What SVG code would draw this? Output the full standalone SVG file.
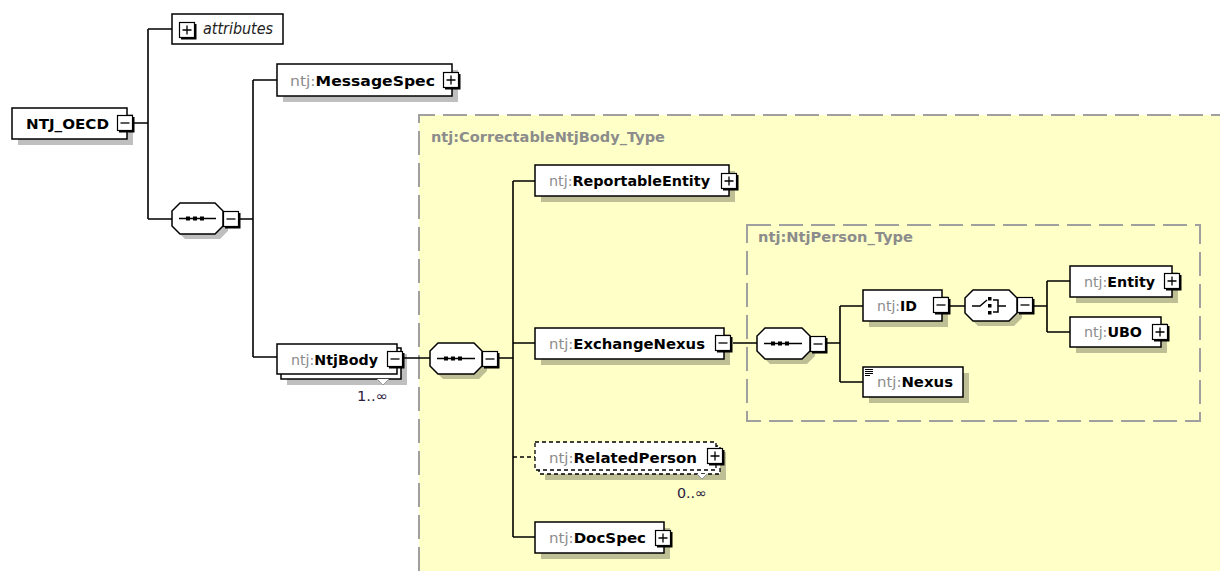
<svg xmlns="http://www.w3.org/2000/svg" xmlns:xlink="http://www.w3.org/1999/xlink" width="1220" height="571" viewBox="0 0 1220 571">
<style>
.box{fill:#fff;stroke:#000;stroke-width:1.5}
.dbox{fill:#fff;stroke:#000;stroke-width:1.3;stroke-dasharray:4 3}
.sh{fill:#000;fill-opacity:0.25}
.ln{fill:none;stroke:#000;stroke-width:1.6}
.dl{fill:none;stroke:#000;stroke-width:1.4;stroke-dasharray:4 3}
.grp{fill:none;stroke:#a0a0a0;stroke-width:2;stroke-dasharray:24 8}
.t{font-family:"DejaVu Sans","Liberation Sans",sans-serif;font-size:14.5px;font-weight:bold;fill:#000}
.p{fill:#8c8c8c;font-weight:normal}
.g{font-family:"DejaVu Sans","Liberation Sans",sans-serif;font-size:14.5px;font-weight:bold;fill:#8c8c8c}
.m{font-family:"DejaVu Sans","Liberation Sans",sans-serif;font-size:14px;fill:#2a2040}
.it{font-family:"DejaVu Sans","Liberation Sans",sans-serif;font-size:15px;font-style:italic;fill:#222}
.ic{fill:none;stroke:#000;stroke-width:1.5}
</style>
<defs>
<g id="bm">
<rect x="0.5" y="0.5" width="15" height="15" fill="#fff" stroke="#000" stroke-width="1.2"/>
<path d="M16.5,2 V16.5 H2" fill="none" stroke="#000" stroke-width="2"/>
<path d="M3.5,8 H12.5" stroke="#000" stroke-width="1.3"/>
</g>
<g id="bp">
<rect x="0.5" y="0.5" width="15" height="15" fill="#fff" stroke="#000" stroke-width="1.2"/>
<path d="M16.5,2 V16.5 H2" fill="none" stroke="#000" stroke-width="2"/>
<path d="M3.5,8 H12.5 M8,3.5 V12.5" stroke="#000" stroke-width="1.3"/>
</g>
</defs>
<rect x="0" y="0" width="1220" height="571" fill="#fff"/>

<g id="CorrectableNtjBody_Type">
<rect x="419" y="115" width="801" height="456" fill="#ffffc8"/>
<path class="grp" d="M419,571 V115 H1220"/>
<text class="g" x="431" y="142" textLength="234" lengthAdjust="spacingAndGlyphs">ntj:CorrectableNtjBody_Type</text>
</g>

<g id="NtjPerson_Type">
<rect class="grp" x="747" y="225" width="453" height="196"/>
<text class="g" x="758" y="242" textLength="155" lengthAdjust="spacingAndGlyphs">ntj:NtjPerson_Type</text>
</g>

<g id="connectors">
<path class="ln" d="M134,123 H148 M148,29 V219 M148,29 H172 M148,219 H172"/>
<path class="ln" d="M240,219 H253 M253,80 V357 M253,80 H277 M253,357 H277"/>
<path class="ln" d="M404,358 H430 M499,358 H513 M513,181 V537 M513,181 H535 M513,343 H535 M513,537 H535"/>
<path class="dl" d="M513,457 H535"/>
<path class="ln" d="M733,343 H757 M827,343 H840 M840,306 V382 M840,306 H863 M840,382 H863"/>
<path class="ln" d="M950,306 H965 M1034,306 H1047 M1047,281 V332 M1047,281 H1070 M1047,332 H1070"/>
</g>

<g id="NTJ_OECD">
<rect class="sh" x="18" y="114" width="115" height="31"/>
<rect class="box" x="12" y="108" width="115" height="31"/>
<text class="t" x="26" y="129" textLength="83" lengthAdjust="spacingAndGlyphs">NTJ_OECD</text>
<use href="#bm" x="117" y="115"/>
</g>

<g id="attributes">
<rect class="box" x="172" y="14" width="111" height="30"/>
<use href="#bp" x="179" y="22"/>
<text class="it" x="203" y="34" textLength="70" lengthAdjust="spacingAndGlyphs">attributes</text>
</g>

<g id="seq1">
<path class="sh" d="M185,208 H220 L228,216 V231 L220,239 H185 L177,231 V216 Z"/>
<path class="box" d="M180,203 H215 L223,211 V226 L215,234 H180 L172,226 V211 Z"/>
<path class="ic" d="M179,218.5 H216"/>
<rect x="186" y="216.5" width="4" height="4"/><rect x="193" y="216.5" width="4" height="4"/><rect x="200" y="216.5" width="4" height="4"/>
<use href="#bm" x="223" y="211"/>
</g>

<g id="MessageSpec">
<rect class="sh" x="283" y="70" width="175" height="32"/>
<rect class="box" x="277" y="64" width="175" height="32"/>
<text class="t" x="290" y="86" textLength="145" lengthAdjust="spacingAndGlyphs"><tspan class="p">ntj:</tspan>MessageSpec</text>
<use href="#bp" x="443" y="72"/>
</g>

<g id="NtjBody">
<rect class="sh" x="287" y="354" width="120" height="31"/>
<rect class="box" x="281" y="348" width="120" height="31"/>
<rect class="box" x="277" y="344" width="120" height="30"/>
<path d="M377,379 L383,385 L389,379" fill="#fff" stroke="#999" stroke-width="1"/>
<text class="t" x="291" y="365" textLength="87" lengthAdjust="spacingAndGlyphs"><tspan class="p">ntj:</tspan>NtjBody</text>
<use href="#bm" x="387" y="351"/>
<text class="m" x="357" y="401" textLength="31" lengthAdjust="spacingAndGlyphs">1..∞</text>
</g>

<g id="seq2">
<path class="sh" d="M443,348 H479 L487,356 V371 L479,379 H443 L435,371 V356 Z"/>
<path class="box" d="M438,343 H474 L482,351 V366 L474,374 H438 L430,366 V351 Z"/>
<path class="ic" d="M437,358.5 H475"/>
<rect x="444" y="356.5" width="4" height="4"/><rect x="451" y="356.5" width="4" height="4"/><rect x="458" y="356.5" width="4" height="4"/>
<use href="#bm" x="482" y="351"/>
</g>

<g id="ReportableEntity">
<rect class="sh" x="541" y="171" width="194" height="31"/>
<rect class="box" x="535" y="165" width="194" height="31"/>
<text class="t" x="549" y="186" textLength="161" lengthAdjust="spacingAndGlyphs"><tspan class="p">ntj:</tspan>ReportableEntity</text>
<use href="#bp" x="721" y="173"/>
</g>

<g id="ExchangeNexus">
<rect class="sh" x="541" y="334" width="189" height="31"/>
<rect class="box" x="535" y="328" width="189" height="31"/>
<text class="t" x="549" y="349" textLength="156" lengthAdjust="spacingAndGlyphs"><tspan class="p">ntj:</tspan>ExchangeNexus</text>
<use href="#bm" x="715" y="335"/>
</g>

<g id="RelatedPerson">
<rect class="sh" x="545" y="452" width="181" height="28"/>
<rect class="dbox" x="539" y="446" width="181" height="28"/>
<rect class="dbox" x="535" y="442" width="181" height="28"/>
<path d="M697,474 L702,479 L707,474" fill="#fff" stroke="#999" stroke-width="1"/>
<text class="t" x="549" y="463" textLength="148" lengthAdjust="spacingAndGlyphs"><tspan class="p">ntj:</tspan>RelatedPerson</text>
<use href="#bp" x="707" y="448"/>
<text class="m" x="677" y="498" textLength="30" lengthAdjust="spacingAndGlyphs">0..∞</text>
</g>

<g id="DocSpec">
<rect class="sh" x="541" y="528" width="129" height="31"/>
<rect class="box" x="535" y="522" width="129" height="31"/>
<text class="t" x="549" y="543" textLength="97" lengthAdjust="spacingAndGlyphs"><tspan class="p">ntj:</tspan>DocSpec</text>
<use href="#bp" x="655" y="530"/>
</g>

<g id="seq3">
<path class="sh" d="M770,333 H807 L815,341 V356 L807,364 H770 L762,356 V341 Z"/>
<path class="box" d="M765,328 H802 L810,336 V351 L802,359 H765 L757,351 V336 Z"/>
<path class="ic" d="M764,343.5 H802"/>
<rect x="771" y="341.5" width="4" height="4"/><rect x="778" y="341.5" width="4" height="4"/><rect x="785" y="341.5" width="4" height="4"/>
<use href="#bm" x="810" y="336"/>
</g>

<g id="ID">
<rect class="sh" x="869" y="296" width="79" height="31"/>
<rect class="box" x="863" y="290" width="79" height="31"/>
<text class="t" x="877" y="311" textLength="40" lengthAdjust="spacingAndGlyphs"><tspan class="p">ntj:</tspan>ID</text>
<use href="#bm" x="933" y="297"/>
</g>

<g id="choice">
<path class="sh" d="M978,295 H1014 L1022,303 V318 L1014,326 H978 L970,318 V303 Z"/>
<path class="box" d="M973,290 H1009 L1017,298 V313 L1009,321 H973 L965,313 V298 Z"/>
<path class="ic" d="M972,306 H980 L987,300 M993,300 H998 V312 H993 M998,306 H1006"/>
<rect x="988" y="297" width="3.5" height="3.5"/><rect x="988" y="304" width="3.5" height="3.5"/><rect x="988" y="311" width="3.5" height="3.5"/>
<use href="#bm" x="1017" y="297"/>
</g>

<g id="Entity">
<rect class="sh" x="1076" y="272" width="102" height="31"/>
<rect class="box" x="1070" y="266" width="102" height="31"/>
<text class="t" x="1084" y="287" textLength="71" lengthAdjust="spacingAndGlyphs"><tspan class="p">ntj:</tspan>Entity</text>
<use href="#bp" x="1164" y="273"/>
</g>

<g id="UBO">
<rect class="sh" x="1076" y="323" width="91" height="30"/>
<rect class="box" x="1070" y="317" width="91" height="30"/>
<text class="t" x="1084" y="337" textLength="58" lengthAdjust="spacingAndGlyphs"><tspan class="p">ntj:</tspan>UBO</text>
<use href="#bp" x="1152" y="324"/>
</g>

<g id="Nexus">
<rect class="sh" x="869" y="373" width="100" height="30"/>
<rect class="box" x="863" y="367" width="100" height="30"/>
<path d="M865,369.5 H873 M865,371.5 H873 M865,373.5 H873 M865,375.5 H870" stroke="#000" stroke-width="1"/>
<text class="t" x="877" y="387" textLength="76" lengthAdjust="spacingAndGlyphs"><tspan class="p">ntj:</tspan>Nexus</text>
</g>
</svg>
